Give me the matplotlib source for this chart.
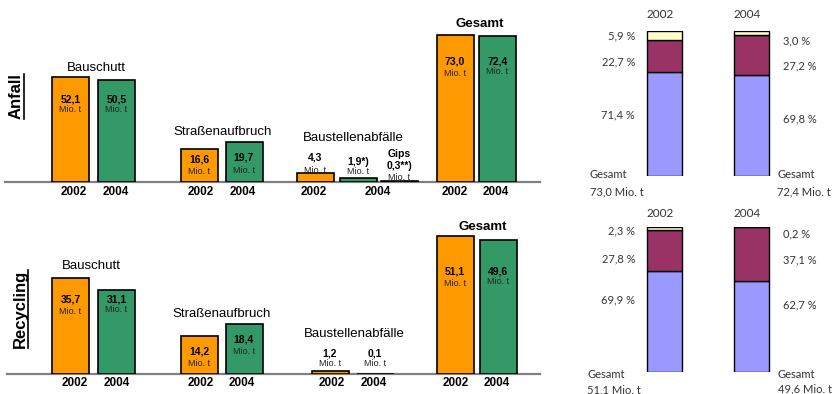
import matplotlib
matplotlib.use('Agg')
import matplotlib.pyplot as plt
from matplotlib.lines import Line2D

# Werte (Mio. t)
years = ['2002', '2004']
anfall_bauschutt = [52.1, 50.5]
anfall_strassen = [16.6, 19.7]
anfall_baustellen = [4.3, 1.9]
anfall_gips = [0.3]
anfall_gesamt = [73.0, 72.4]

rec_bauschutt = [35.7, 31.1]
rec_strassen = [14.2, 18.4]
rec_baustellen = [1.2, 0.1]
rec_gesamt = [51.1, 49.6]

# Anteile in % (Bauschutt, Strassenaufbruch, Baustellenabfaelle)
anteil_anfall = {'2002': [71.4, 22.7, 5.9], '2004': [69.8, 27.2, 3.0]}
anteil_rec = {'2002': [69.9, 27.8, 2.3], '2004': [62.7, 37.1, 0.2]}

ORANGE = '#FF9900'
GREEN = '#339966'
seg_colors = ['#9999FF', '#993366', '#FFFFCC']

W, H = 832, 394
fig = plt.figure(figsize=(W / 100, H / 100), dpi=100)
plt.rcParams['font.family'] = ['Liberation Sans', 'DejaVu Sans']


def de(v):
    return f"{v:.1f}".replace('.', ',')


def ftext(x, y, s, **kw):
    kw.setdefault('ha', 'center')
    kw.setdefault('va', 'center')
    fig.text(x / W, 1 - y / H, s, **kw)


def left_axes(base_px, scale):
    ax = fig.add_axes([0, (H - base_px) / H, 560 / W, 162 / H])
    ax.set_xlim(0, 560)
    ax.set_ylim(0, 162 / scale)
    ax.axis('off')
    return ax


# ---------- Anfall ----------
ax1 = left_axes(182, 2.01)
bw = 37
kw = dict(width=bw, edgecolor='black', linewidth=1.2)
ax1.bar([70.5, 116.5], anfall_bauschutt, color=[ORANGE, GREEN], **kw)
ax1.bar([199.5, 244], anfall_strassen, color=[ORANGE, GREEN], **kw)
ax1.bar([315, 358.5], anfall_baustellen, color=[ORANGE, GREEN], **kw)
ax1.bar([399.5], anfall_gips, color='#1f5f3f', **kw)
ax1.bar([455, 497.5], anfall_gesamt, color=[ORANGE, GREEN], **kw)
ax1.plot([5, 540], [0, 0], color='#808080', lw=1.6, clip_on=False, zorder=0)

# ---------- Recycling ----------
ax2 = left_axes(374, 2.7)
ax2.bar([70.5, 116.5], rec_bauschutt, color=[ORANGE, GREEN], **kw)
ax2.bar([199.5, 244], rec_strassen, color=[ORANGE, GREEN], **kw)
ax2.bar([330, 375], rec_baustellen, color=[ORANGE, 'black'], **kw)
ax2.bar([455, 498], rec_gesamt, color=[ORANGE, GREEN], **kw)
ax2.plot([7, 540], [0, 0], color='#808080', lw=1.6, clip_on=False, zorder=0)

# Gruppentitel
ftext(96, 68, 'Bauschutt', fontsize=9.5)
ftext(223, 132, 'Straßenaufbruch', fontsize=9.5)
ftext(353, 138, 'Baustellenabfälle', fontsize=9.5)
ftext(480, 24, 'Gesamt', fontsize=9.5, fontweight='bold')
ftext(91, 266, 'Bauschutt', fontsize=9.5)
ftext(222, 314, 'Straßenaufbruch', fontsize=9.5)
ftext(354, 334, 'Baustellenabfälle', fontsize=9.5)
ftext(483, 227, 'Gesamt', fontsize=9.5, fontweight='bold')

# Jahreslabels
top_year_x = [74, 116, 201, 243, 314, 378, 455, 496]
bot_year_x = [75, 117, 201, 242, 332, 374, 456, 497]
for i, x in enumerate(top_year_x):
    ftext(x, 192, years[i % 2], fontsize=8.5, fontweight='bold')
for i, x in enumerate(bot_year_x):
    ftext(x, 383, years[i % 2], fontsize=8.5, fontweight='bold')


def value_label(x, y_val, y_mio, v, extra=''):
    ftext(x, y_val, de(v) + extra, fontsize=7.5, fontweight='bold')
    ftext(x, y_mio, 'Mio. t', fontsize=6.5, color='#222222')


# Werte Anfall
value_label(70.5, 99, 109, anfall_bauschutt[0])
value_label(116.5, 99, 109, anfall_bauschutt[1])
value_label(199.5, 160, 171, anfall_strassen[0])
value_label(244, 158, 170, anfall_strassen[1])
value_label(455, 62, 73, anfall_gesamt[0])
value_label(497.5, 62, 72, anfall_gesamt[1])
value_label(315, 158, 170, anfall_baustellen[0])
value_label(358.5, 162, 172, anfall_baustellen[1], '*)')
ftext(399.5, 154, 'Gips', fontsize=7.5, fontweight='bold')
value_label(399.5, 166, 177, anfall_gips[0], '**)')

# Werte Recycling
value_label(70.5, 299, 311, rec_bauschutt[0])
value_label(116.5, 299, 310, rec_bauschutt[1])
value_label(199.5, 352, 363, rec_strassen[0])
value_label(244, 339, 351, rec_strassen[1])
value_label(455, 272, 283, rec_gesamt[0])
value_label(498, 272, 282, rec_gesamt[1])
value_label(330, 353, 364, rec_baustellen[0])
value_label(375, 353, 364, rec_baustellen[1])

# Seitentitel (gedreht, unterstrichen)
ftext(16, 96, 'Anfall', fontsize=12, fontweight='bold', rotation=90)
ftext(20, 309, 'Recycling', fontsize=12, fontweight='bold', rotation=90)
fig.add_artist(Line2D([24 / W, 24 / W], [1 - 119 / H, 1 - 74 / H], color='black', lw=1.2))
fig.add_artist(Line2D([28 / W, 28 / W], [1 - 348 / H, 1 - 270 / H], color='black', lw=1.2))


# ---------- Anteile (rechts) ----------
def share_axes(bottom_px, shares):
    ax = fig.add_axes([560 / W, (H - bottom_px) / H, 272 / W, 145 / H])
    ax.set_xlim(560, 832)
    ax.set_ylim(0, 100)
    ax.axis('off')
    for x, yr in zip([664.5, 751.5], years):
        bottom = 0
        for v, c in zip(shares[yr], seg_colors):
            ax.bar(x, v, bottom=bottom, width=35, color=c, edgecolor='black',
                   linewidth=1.0)
            bottom += v
    return ax


share_axes(176, anteil_anfall)
share_axes(372, anteil_rec)

rfont = dict(fontsize=8, color='#333333', family=['Lato', 'DejaVu Sans'])
yfont = dict(fontsize=8.5, color='#333333', family=['Lato', 'DejaVu Sans'])


def pct(v):
    return de(v) + ' %'


ftext(660, 14, '2002', **yfont)
ftext(747, 14, '2004', **yfont)
for v, y in zip(anteil_anfall['2002'][::-1], [36, 62, 115]):
    ftext(635, y, pct(v), ha='right', **rfont)
for v, y in zip(anteil_anfall['2004'][::-1], [41, 66, 119]):
    ftext(783, y, pct(v), ha='left', **rfont)
ftext(590, 174, 'Gesamt', ha='left', **rfont)
ftext(590, 192, de(anfall_gesamt[0]) + ' Mio. t', ha='left', **rfont)
ftext(777, 174, 'Gesamt', ha='left', **rfont)
ftext(777, 192, de(anfall_gesamt[1]) + ' Mio. t', ha='left', **rfont)

ftext(660, 214, '2002', **yfont)
ftext(747, 214, '2004', **yfont)
for v, y in zip(anteil_rec['2002'][::-1], [231, 259, 300]):
    ftext(635, y, pct(v), ha='right', **rfont)
for v, y in zip(anteil_rec['2004'][::-1], [234, 260, 305]):
    ftext(783, y, pct(v), ha='left', **rfont)
ftext(587, 375, 'Gesamt', ha='left', **rfont)
ftext(587, 390, de(rec_gesamt[0]) + ' Mio. t', ha='left', **rfont)
ftext(778, 374, 'Gesamt', ha='left', **rfont)
ftext(778, 389, de(rec_gesamt[1]) + ' Mio. t', ha='left', **rfont)

fig.savefig('out.png', dpi=100)
